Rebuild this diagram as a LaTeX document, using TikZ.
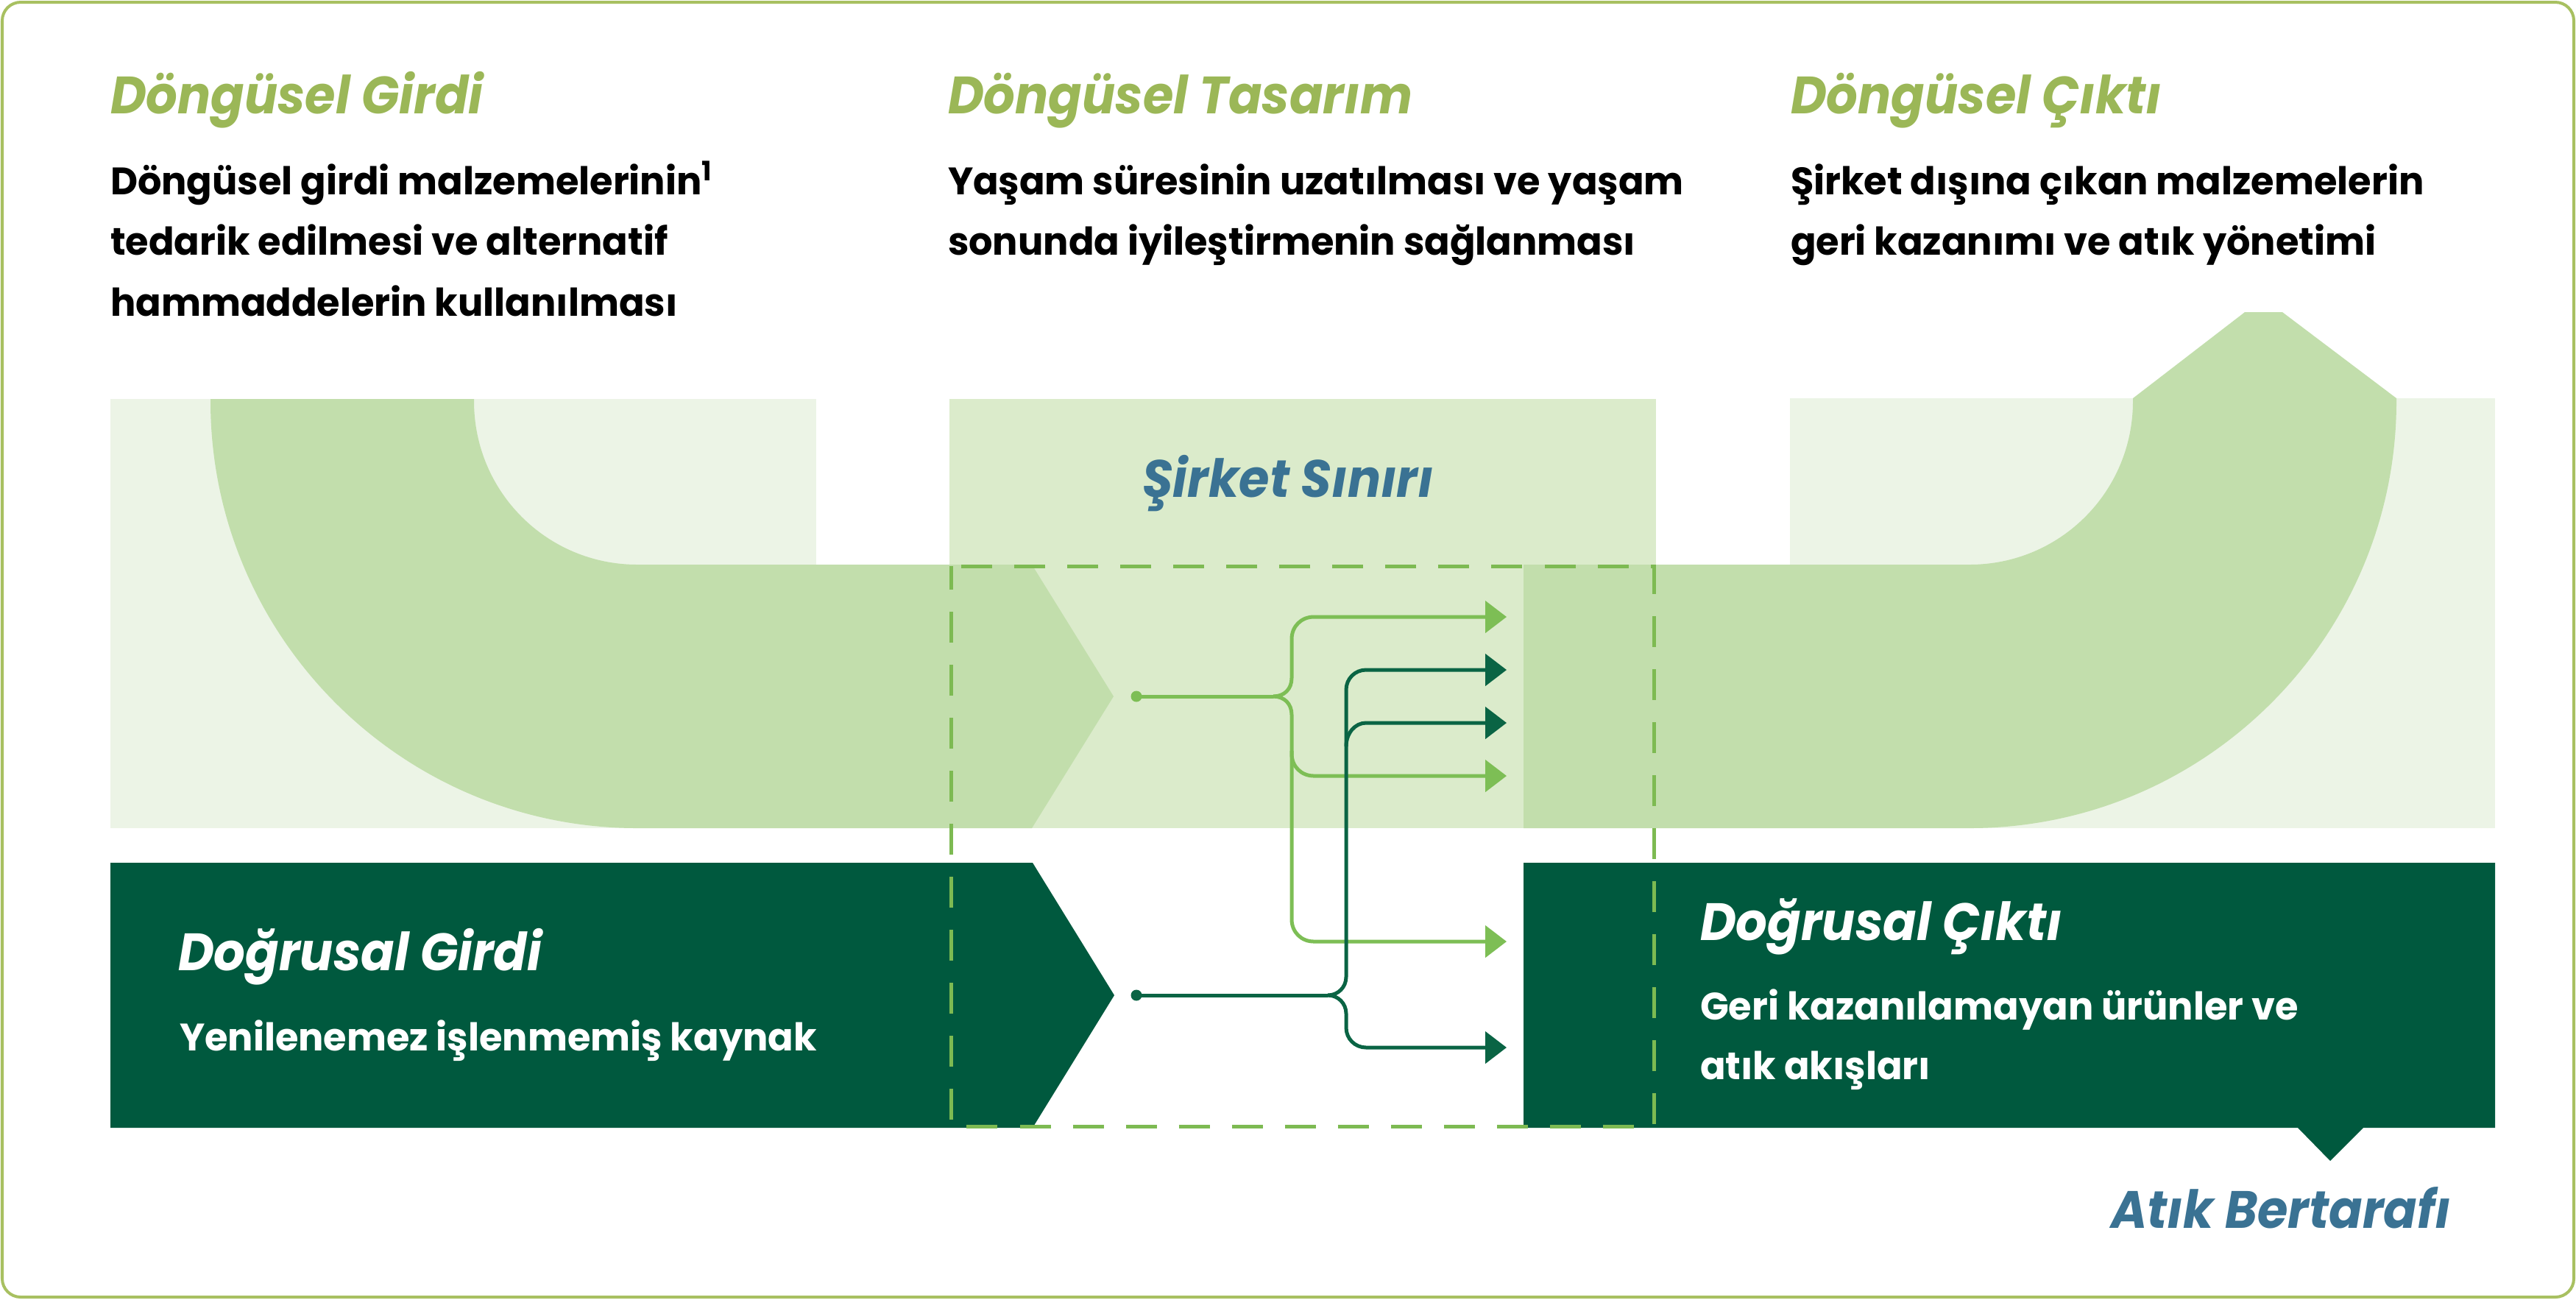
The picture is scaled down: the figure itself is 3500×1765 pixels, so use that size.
\documentclass[tikz,border=0pt]{standalone}
\usepackage{fontspec}
\setmainfont{Poppins}
\newfontfamily\ttlfam{Poppins}[FakeStretch=0.94]
\newfontfamily\bodyfam{Poppins}[FakeStretch=0.98]
\usetikzlibrary{arrows.meta}
\definecolor{olive}{HTML}{9BB757}
\definecolor{tealc}{HTML}{3A7293}
\definecolor{dkgreen}{HTML}{00593E}
\definecolor{bandc}{HTML}{C2DEAC}
\definecolor{midc}{HTML}{DBEBCB}
\definecolor{sidec}{HTML}{ECF4E6}
\definecolor{arrlight}{HTML}{7DBE55}
\definecolor{arrdark}{HTML}{0A6444}
\definecolor{dashc}{HTML}{7DBA52}
\definecolor{framec}{HTML}{A8C061}
\newcommand\ttlfont{\ttlfam\fontsize{20.3}{24}\selectfont\bfseries\itshape}
\newcommand\bodyfont{\bodyfam\fontsize{14.8}{20}\selectfont\bfseries}
\tikzset{
  txt/.style={anchor=base west, inner sep=0pt, outer sep=0pt},
  ttl/.style={txt, font=\ttlfont, text=olive},
  bodytxt/.style={txt, font=\bodyfont, text=black},
  wttl/.style={txt, font=\ttlfont, text=white},
  wbody/.style={txt, font=\bodyfont, text=white},
  bttl/.style={txt, font=\ttlfont, text=tealc},
  lflow/.style={draw=arrlight, line width=0.05cm},
  dflow/.style={draw=arrdark, line width=0.05cm},
  ltip/.style={lflow, -{Triangle[length=0.29cm,width=0.43cm]}},
  dtip/.style={dflow, -{Triangle[length=0.29cm,width=0.43cm]}},
  dotl/.style={circle, fill=arrlight, inner sep=0pt, minimum size=0.15cm},
  dotd/.style={circle, fill=arrdark, inner sep=0pt, minimum size=0.15cm},
}
\begin{document}
\begin{tikzpicture}[x=0.01cm,y=-0.01cm]
\useasboundingbox (0,0) rectangle (3500,1765);
% frame
\draw[framec, line width=0.04cm, rounded corners=0.25cm] (3,3) rectangle (3497,1762);
% panels
\fill[sidec] (150,542) rectangle (1109,1125);
\fill[sidec] (2432,541) rectangle (3390,1125);
\fill[midc] (1290,542) rectangle (2250,1125);
% left band
\fill[bandc] (286,542) -- (286,545)
  .. controls (286,865) and (546,1125) .. (866,1125)
  -- (1402,1125) -- (1513,946) -- (1402,767) -- (866,767)
  .. controls (743,767) and (644,668) .. (644,545)
  -- (644,542) -- cycle;
% right band
\fill[bandc] (2070,767) -- (2676,767)
  .. controls (2799,767) and (2898,668) .. (2898,545)
  -- (2898,541) -- (3050,424) -- (3101,424) -- (3256,541) -- (3256,545)
  .. controls (3256,865) and (2996,1125) .. (2676,1125)
  -- (2070,1125) -- cycle;
% dark boxes
\fill[dkgreen] (150,1172) -- (1403,1172) -- (1514,1352) -- (1403,1532) -- (150,1532) -- cycle;
\fill[dkgreen] (2070,1172) -- (3390,1172) -- (3390,1532) -- (3211,1532) -- (3166,1577) -- (3122,1532) -- (2070,1532) -- cycle;
% company boundary
\draw[dashc, line width=0.05cm, dash pattern=on 0.42cm off 0.30cm, dash phase=0.1cm] (1292,769) rectangle (2247,1530);
% light flows
\node[dotl] (ls) at (1544,946) {};
\coordinate (lsplit) at (1730,946);
\coordinate (la) at (2047,838);
\coordinate (lb) at (2047,1054);
\coordinate (lc) at (2047,1279);
\draw[lflow] (ls.center) -- (lsplit);
\draw[ltip] (lsplit) .. controls (1745,946) and (1755,936) .. (1755,921) -- (1755,868)
  .. controls (1755,851) and (1768,838) .. (1785,838) -- (la);
\draw[ltip] (lsplit) .. controls (1745,946) and (1755,956) .. (1755,971) -- (1755,1024)
  .. controls (1755,1041) and (1768,1054) .. (1785,1054) -- (lb);
\draw[ltip] (1755,1020) -- (1755,1249)
  .. controls (1755,1266) and (1768,1279) .. (1785,1279) -- (lc);
% dark flows
\node[dotd] (ds) at (1544,1352) {};
\coordinate (dsplit) at (1804,1352);
\coordinate (da) at (2047,910);
\coordinate (db) at (2047,982);
\coordinate (dc) at (2047,1423);
\draw[dflow] (ds.center) -- (dsplit);
\draw[dtip] (dsplit) .. controls (1818,1352) and (1829,1341) .. (1829,1327) -- (1829,937)
  .. controls (1829,922) and (1841,910) .. (1856,910) -- (da);
\draw[dtip] (1829,1014) .. controls (1829,996) and (1841,982) .. (1856,982) -- (db);
\draw[dtip] (dsplit) .. controls (1818,1352) and (1829,1363) .. (1829,1377) -- (1829,1396)
  .. controls (1829,1411) and (1841,1423) .. (1856,1423) -- (dc);
% top texts
\node[ttl] (t1) at (150,154) {Döngüsel Girdi};
\node[bodytxt] (b11) at (150,264) {Döngüsel girdi malzemelerinin\textsuperscript{1}};
\node[bodytxt] (b12) at (150,346) {tedarik edilmesi ve alternatif};
\node[bodytxt] (b13) at (150,429) {hammaddelerin kullanılması};
\node[ttl] (t2) at (1288,154) {Döngüsel Tasarım};
\node[bodytxt] (b21) at (1288,264) {Yaşam süresinin uzatılması ve yaşam};
\node[bodytxt] (b22) at (1288,346) {sonunda iyileştirmenin sağlanması};
\node[ttl] (t3) at (2433,154) {Döngüsel Çıktı};
\node[bodytxt] (b31) at (2433,264) {Şirket dışına çıkan malzemelerin};
\node[bodytxt] (b32) at (2433,346) {geri kazanımı ve atık yönetimi};
% boundary label
\node[bttl] (sb) at (1552,675) {Şirket Sınırı};
% dark box texts
\node[wttl] (dg) at (242,1318) {Doğrusal Girdi};
\node[wbody] (dgb) at (244,1427) {Yenilenemez işlenmemiş kaynak};
\node[wttl] (dc1) at (2310,1277) {Doğrusal Çıktı};
\node[wbody] (dcb1) at (2310,1385) {Geri kazanılamayan ürünler ve};
\node[wbody] (dcb2) at (2310,1466) {atık akışları};
\node[bttl] (ab) at (2868,1668) {Atık Bertarafı};
\end{tikzpicture}
\end{document}
